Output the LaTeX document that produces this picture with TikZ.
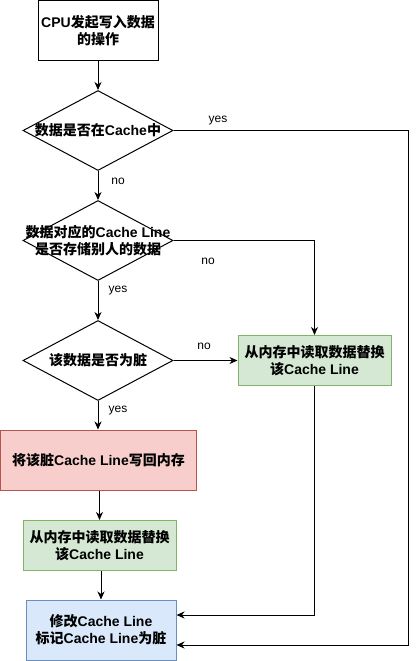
\documentclass[tikz,border=0pt]{standalone}
\usepackage{fontspec}
\setmainfont{Liberation Sans}
\newfontfamily\cjk{Noto Sans CJK SC}
\newcommand{\zh}[1]{{\cjk #1}}
\usetikzlibrary{shapes.geometric,arrows.meta}
\definecolor{redfill}{HTML}{F8CECC}
\definecolor{redline}{HTML}{B85450}
\definecolor{greenfill}{HTML}{D5E8D4}
\definecolor{greenline}{HTML}{82B366}
\definecolor{bluefill}{HTML}{DAE8FC}
\definecolor{blueline}{HTML}{6C8EBF}
\tikzset{
  txt/.style={font=\bfseries\fontsize{14}{17}\selectfont, align=center, inner sep=0pt},
  box/.style={draw, line width=1pt, inner sep=0pt, align=center, font=\bfseries\fontsize{14}{17}\selectfont},
  dec/.style={draw, shape=diamond, line width=1pt, inner sep=0pt, minimum width=150pt, minimum height=80pt},
  lbl/.style={font=\fontsize{12}{14}\selectfont, inner sep=0pt},
  arr/.style={line width=1pt, -{Stealth[length=8pt,width=7pt,inset=2.5pt]}},
}
\begin{document}
\begin{tikzpicture}[x=1pt,y=-1pt]
\useasboundingbox (0,0) rectangle (418,661);
\node[box, minimum width=120pt, minimum height=60pt] (b1) at (98,30.5) {CPU\zh{发起写入数据}\\\zh{的操作}};
\node[dec] (d1) at (98,130.5) {};
\node[txt] (d1t) at (d1.center) {\zh{数据是否在}Cache\zh{中}};
\node[dec] (d2) at (98,240.5) {};
\node[txt] (d2t) at (d2.center) {\zh{数据对应的}Cache Line\\\zh{是否存储别人的数据}};
\node[dec] (d3) at (98,360.5) {};
\node[txt] (d3t) at (d3.center) {\zh{该数据是否为脏}};
\node[box, fill=greenfill, draw=greenline, minimum width=153pt, minimum height=50pt] (g1) at (314.5,360.5) {\zh{从内存中读取数据替换}\\\zh{该}Cache Line};
\node[box, fill=redfill, draw=redline, minimum width=196pt, minimum height=60pt] (r) at (98.5,460) {\zh{将该脏}Cache Line\zh{写回内存}};
\node[box, fill=greenfill, draw=greenline, minimum width=153pt, minimum height=50pt] (g2) at (99.5,545.5) {\zh{从内存中读取数据替换}\\\zh{该}Cache Line};
\node[box, fill=bluefill, draw=blueline, minimum width=150pt, minimum height=60pt] (bl) at (101,630) {\zh{修改}Cache Line\\\zh{标记}Cache Line\zh{为脏}};
\coordinate (c1) at (408,130.5);
\draw[arr] (b1) -- (d1);
\draw[arr] (d1) -- (d2);
\draw[arr] (d2) -- (d3);
\draw[arr] (d3.south) -- (d3.south |- r.north);
\draw[arr] (g2.north |- r.south) -- (g2.north);
\draw[arr] (bl.north |- g2.south) -- (bl.north);
\draw[arr] (d3.east) -- (d3.east -| g1.west);
\draw[arr] (d2.east) -| (g1.north);
\draw[arr] (g1.south) |- ([yshift=15pt]bl.east);
\draw[arr] (d1.east) -- (c1) |- ([yshift=-15pt]bl.east);
\node[lbl] (l1) at (218,121) {yes};
\node[lbl] (l2) at (118,181) {no};
\node[lbl] (l3) at (208,261) {no};
\node[lbl] (l4) at (118,291) {yes};
\node[lbl] (l5) at (204,346) {no};
\node[lbl] (l6) at (118,411) {yes};
\end{tikzpicture}
\end{document}
